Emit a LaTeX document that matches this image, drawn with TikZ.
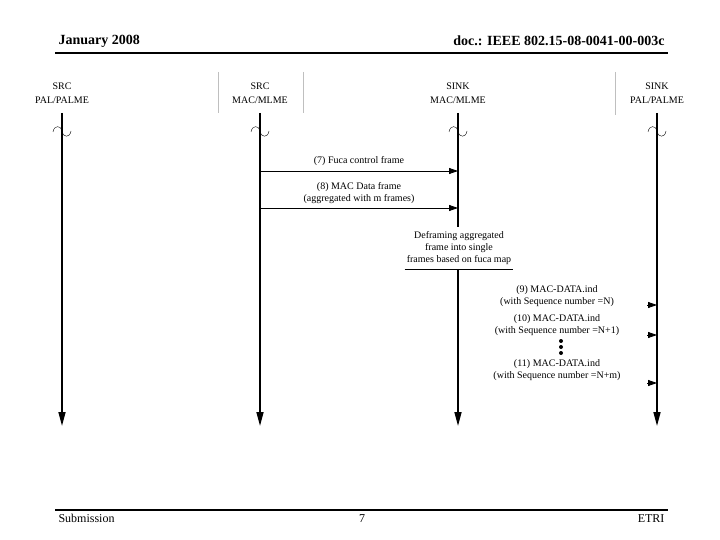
\documentclass[tikz,border=0pt]{standalone}
\usepackage{fontspec}
\setmainfont{Liberation Serif}
\usetikzlibrary{arrows.meta}
\begin{document}
\begin{tikzpicture}[x=1pt,y=-1pt,
  lifeline/.style={line width=1.6pt,-{Triangle[length=14pt,width=7pt]}},
  msg/.style={line width=0.8pt,-{Triangle[length=9pt,width=6pt]}},
  lbl/.style={font=\fontsize{10}{12}\selectfont,align=center,inner sep=0pt},
  head/.style={font=\fontsize{10}{14}\selectfont,align=center,inner sep=0pt}]
\useasboundingbox (0,0) rectangle (720,540);

\node[anchor=base west,font=\bfseries\fontsize{14}{16}\selectfont] (date) at (55,45) {January 2008};
\node[anchor=base east,font=\bfseries\fontsize{14}{16}\selectfont] (doc) at (668,46) {doc.: IEEE 802.15-08-0041-00-003c};
\draw[line width=1.5pt] (55,53) -- (668,53);

\node[head] (srcpal) at (62,93) {SRC\\PAL/PALME};
\node[head] (srcmac) at (260,93) {SRC\\MAC/MLME};
\node[head] (sinkmac) at (458,93) {SINK\\MAC/MLME};
\node[head] (sinkpal) at (657,93) {SINK\\PAL/PALME};

\draw[gray!50] (218,72) -- (218,113);
\draw[gray!50] (303,72) -- (303,113);
\draw[gray!50] (615,72) -- (615,115);

\foreach \x/\n in {62/srcpal,260/srcmac,458/sinkmac,657/sinkpal} {
  \coordinate (top-\n) at (\x,113);
  \coordinate (end-\n) at (\x,426);
  \draw[lifeline] (top-\n) -- (end-\n);
  \draw[thin] (\x-9,132) .. controls (\x-8,125) and (\x-1,125) .. (\x,131)
    .. controls (\x+1,138) and (\x+8,138) .. (\x+9,131);
}

\coordinate (m7a) at (260,171);
\coordinate (m7b) at (458,171);
\draw[msg] (m7a) -- (m7b) node[lbl,midway,above=5pt] (m7) {(7) Fuca control frame};

\coordinate (m8a) at (260,208);
\coordinate (m8b) at (458,208);
\draw[msg] (m8a) -- (m8b) node[lbl,midway,above=4pt] (m8) {(8) MAC Data frame\\(aggregated with m frames)};

\node[lbl,fill=white,inner xsep=2pt,inner ysep=4pt] (deframe) at (459,248)
  {Deframing aggregated\\frame into single\\frames based on fuca map};
\draw (deframe.south west) -- (deframe.south east);

\node[lbl] (m9) at (557,296) {(9) MAC-DATA.ind\\(with Sequence number =N)};
\coordinate (m9a) at (647,305);
\draw[msg] (m9a) -- (top-sinkpal |- m9a);

\node[lbl] (m10) at (557,325) {(10) MAC-DATA.ind\\(with Sequence number =N+1)};
\coordinate (m10a) at (647,335);
\draw[msg] (m10a) -- (top-sinkpal |- m10a);

\foreach \y in {341,347,353}
  \fill (561,\y) circle (2);

\node[lbl] (m11) at (557,370) {(11) MAC-DATA.ind\\(with Sequence number =N+m)};
\coordinate (m11a) at (647,383);
\draw[msg] (m11a) -- (top-sinkpal |- m11a);

\draw[line width=1.5pt] (55,510) -- (668,510);
\node[anchor=base west,font=\fontsize{12}{14}\selectfont] (sub) at (55,522) {Submission};
\node[anchor=base,font=\fontsize{12}{14}\selectfont] (page) at (362,522) {7};
\node[anchor=base east,font=\fontsize{12}{14}\selectfont] (etri) at (668,522) {ETRI};
\end{tikzpicture}
\end{document}
